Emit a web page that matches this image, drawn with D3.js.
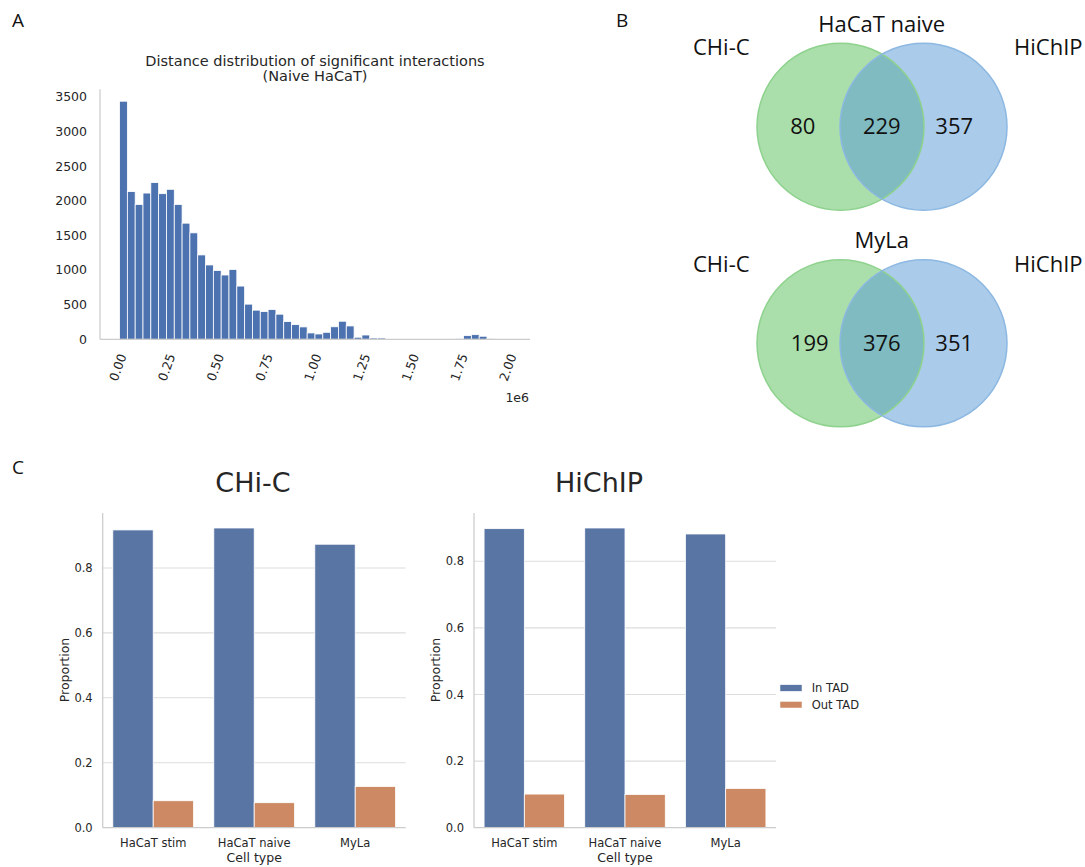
<!DOCTYPE html>
<html>
<head>
<meta charset="utf-8">
<script src="https://cdn.jsdelivr.net/npm/d3@7"></script>
<style>
  html, body { margin: 0; padding: 0; background: #fff; }
  svg { display: block; }
  text { fill: #262626; }
</style>
</head>
<body>
<svg id="fig" width="1085" height="867"></svg>
<script>
// ---------- Panel A: histogram of interaction distances (Naive HaCaT) ----------
const histBinStart = 9000;      // bp, left edge of first bin
const histBinWidth = 40100;     // bp per bin
const histCounts = [
  3440, 2134, 1949, 2113, 2264, 2104, 2167, 1949, 1678, 1538,
  1219, 1074,  995,  929, 1010,  769,  508,  421,  401,  430,
   363,  256,  212,  179,   92,   77,  101,  181,  261,  193,
    30,   62,   19,   19,    0,    0,    0,    0,    0,    0,
     0,    0,    0,   10,   53,   67,   44,   10,    0,    0
];
const histXTicks = [0, 250000, 500000, 750000, 1000000, 1250000, 1500000, 1750000, 2000000];
const histYTicks = [0, 500, 1000, 1500, 2000, 2500, 3000, 3500];

// ---------- Panel B: Venn overlaps ----------
const vennSets = ["CHi-C", "HiChIP"];
const vennTitles = ["HaCaT naive", "MyLa"];
const vennOnlyA = [80, 199];
const vennBoth = [229, 376];
const vennOnlyB = [357, 351];

// ---------- Panel C: proportion of interactions in / out of TADs ----------
const cellTypes = ["HaCaT stim", "HaCaT naive", "MyLa"];
const tadGroups = ["In TAD", "Out TAD"];
const chicIn  = [0.917, 0.923, 0.873];
const chicOut = [0.083, 0.077, 0.127];
const hichipIn  = [0.898, 0.900, 0.882];
const hichipOut = [0.101, 0.100, 0.118];
const propTicks = [0.0, 0.2, 0.4, 0.6, 0.8];

const svg = d3.select("#fig");
const SANS = "'DejaVu Sans', sans-serif";
const LABEL = "'Open Sans', 'Noto Sans', sans-serif";
const SPINE = "#cccccc";

// Panel letters
[["A", 12, 27], ["B", 616, 27], ["C", 12, 474]].forEach(([t, x, y]) => {
  svg.append("text").attr("x", x).attr("y", y).attr("font-family", LABEL)
    .attr("font-size", 19).style("fill", "#111").text(t);
});

// ===== Panel A =====
(function () {
  const g = svg.append("g");
  const lo = histBinStart, hi = histBinStart + histCounts.length * histBinWidth;
  const pad = 0.05 * (hi - lo);
  const x = d3.scaleLinear().domain([lo - pad, hi + pad]).range([100, 530]);
  const y = d3.scaleLinear().domain([0, d3.max(histCounts) * 1.05]).range([339.3, 89.3]);

  const bins = histCounts.map((c, i) => ({ x0: lo + i * histBinWidth, x1: lo + (i + 1) * histBinWidth, c }))
    .filter(d => d.c > 0);

  g.selectAll("rect.bin").data(bins).join("rect")
    .attr("class", "bin")
    .attr("x", d => x(d.x0))
    .attr("width", d => x(d.x1) - x(d.x0))
    .attr("y", d => y(d.c))
    .attr("height", d => y(0) - y(d.c))
    .attr("fill", "#4c72b0")
    .attr("stroke", "#ffffff").attr("stroke-width", 0.8);

  // spines
  g.append("line").attr("x1", 100).attr("x2", 100).attr("y1", y.range()[1]).attr("y2", y(0))
    .attr("stroke", SPINE).attr("stroke-width", 1.25);
  g.append("line").attr("x1", 100).attr("x2", 530).attr("y1", y(0)).attr("y2", y(0))
    .attr("stroke", SPINE).attr("stroke-width", 1.25);

  // y tick labels
  g.selectAll("text.yt").data(histYTicks).join("text")
    .attr("class", "yt")
    .attr("x", 87).attr("y", d => y(d)).attr("dy", "0.35em")
    .attr("text-anchor", "end").attr("font-family", SANS).attr("font-size", 12.5)
    .text(d => d);

  // x tick labels, rotated 70 degrees, box centred under the tick
  g.selectAll("text.xt").data(histXTicks).join("text")
    .attr("class", "xt")
    .attr("transform", d => `translate(${x(d)},${y(0) + 28}) rotate(-70)`)
    .attr("text-anchor", "middle").attr("dominant-baseline", "central")
    .attr("font-family", SANS).attr("font-size", 12.5)
    .text(d => d3.format(".2f")(d / 1e6));

  g.append("text").attr("x", 529).attr("y", 402).attr("text-anchor", "end")
    .attr("font-family", SANS).attr("font-size", 12.5).text("1e6");

  const title = g.append("text").attr("text-anchor", "middle")
    .attr("font-family", SANS).attr("font-size", 14.5);
  title.append("tspan").attr("x", 315).attr("y", 66).text("Distance distribution of significant interactions");
  title.append("tspan").attr("x", 315).attr("y", 81).text("(Naive HaCaT)");
})();

// ===== Panel B =====
(function () {
  const cy = [126.7, 343.3];
  const r = 83.5;
  const cx = d3.scaleOrdinal().domain(vennSets).range([840.5, 923.5]);
  const fill = d3.scaleOrdinal().domain(vennSets).range(["#aadeaa", "#aacbe9"]);
  const edge = d3.scaleOrdinal().domain(vennSets).range(["#8ed28e", "#8cb8e2"]);
  const lensFill = "#80bbc1";

  vennTitles.forEach((title, k) => {
    const g = svg.append("g");
    const ax = cx(vennSets[0]), bx = cx(vennSets[1]), c = cy[k];
    vennSets.forEach(s => {
      g.append("circle").attr("cx", cx(s)).attr("cy", c).attr("r", r).attr("fill", fill(s));
    });
    // overlap lens
    const half = (bx - ax) / 2, h = Math.sqrt(r * r - half * half), mx = ax + half;
    g.append("path")
      .attr("d", `M${mx},${c - h} A${r},${r} 0 0 1 ${mx},${c + h} A${r},${r} 0 0 1 ${mx},${c - h} Z`)
      .attr("fill", lensFill);
    vennSets.forEach(s => {
      g.append("circle").attr("cx", cx(s)).attr("cy", c).attr("r", r)
        .attr("fill", "none").attr("stroke", edge(s)).attr("stroke-width", 1.5);
    });

    const base = c + 7.5;
    g.append("text").attr("x", 881.7).attr("y", c - 95).attr("text-anchor", "middle")
      .attr("font-family", LABEL).attr("font-size", 22).style("fill", "#111").text(title);
    g.append("text").attr("x", 721.3).attr("y", c - 71.7).attr("text-anchor", "middle")
      .attr("font-family", LABEL).attr("font-size", 22).style("fill", "#111").text(vennSets[0]);
    g.append("text").attr("x", 1048.3).attr("y", c - 71.7).attr("text-anchor", "middle")
      .attr("font-family", LABEL).attr("font-size", 22).style("fill", "#111").text(vennSets[1]);
    const nums = [[vennOnlyA[k], k === 0 ? 802.8 : 809.7], [vennBoth[k], 881.8], [vennOnlyB[k], 954.2]];
    nums.forEach(([v, xx]) => {
      g.append("text").attr("x", xx).attr("y", base).attr("text-anchor", "middle")
        .attr("font-family", LABEL).attr("font-size", 22).style("fill", "#111").text(v);
    });
  });
})();

// ===== Panel C =====
function barPanel(opts) {
  const { x0, x1, inVals, outVals, title, titleX } = opts;
  const g = svg.append("g");
  const y0 = 827.7, yTop = 513;
  const y = d3.scaleLinear().domain([0, d3.max(inVals.concat(outVals)) * 1.05]).range([y0, yTop]);
  const xb = d3.scaleBand().domain(cellTypes).range([x0, x1]).paddingInner(0.2).paddingOuter(0.1);
  const xh = d3.scaleBand().domain(tadGroups).range([0, xb.bandwidth()]);
  const color = d3.scaleOrdinal().domain(tadGroups).range(["#5975a4", "#cc8963"]);

  // horizontal grid
  g.selectAll("line.grid").data(propTicks.filter(t => t > 0)).join("line")
    .attr("class", "grid")
    .attr("x1", x0).attr("x2", x1).attr("y1", d => y(d)).attr("y2", d => y(d))
    .attr("stroke", "#dddddd").attr("stroke-width", 1.1);

  const rows = cellTypes.flatMap((c, i) => [
    { cat: c, grp: tadGroups[0], v: inVals[i] },
    { cat: c, grp: tadGroups[1], v: outVals[i] }
  ]);
  g.selectAll("rect.bar").data(rows).join("rect")
    .attr("class", "bar")
    .attr("x", d => xb(d.cat) + xh(d.grp))
    .attr("width", xh.bandwidth())
    .attr("y", d => y(d.v))
    .attr("height", d => y0 - y(d.v))
    .attr("fill", d => color(d.grp))
    .attr("stroke", "#ffffff").attr("stroke-width", 0.8);

  // spines
  g.append("line").attr("x1", x0).attr("x2", x0).attr("y1", yTop).attr("y2", y0)
    .attr("stroke", SPINE).attr("stroke-width", 1.25);
  g.append("line").attr("x1", x0).attr("x2", x1).attr("y1", y0).attr("y2", y0)
    .attr("stroke", SPINE).attr("stroke-width", 1.25);

  g.selectAll("text.yt").data(propTicks).join("text")
    .attr("class", "yt")
    .attr("x", x0 - 10).attr("y", d => y(d)).attr("dy", "0.35em")
    .attr("text-anchor", "end").attr("font-family", SANS).attr("font-size", 11.5)
    .text(d => d3.format(".1f")(d));

  g.selectAll("text.xt").data(cellTypes).join("text")
    .attr("class", "xt")
    .attr("x", d => xb(d) + xb.bandwidth() / 2).attr("y", 846.5)
    .attr("text-anchor", "middle").attr("font-family", SANS).attr("font-size", 11.5)
    .text(d => d);

  g.append("text").attr("x", (x0 + x1) / 2).attr("y", 862)
    .attr("text-anchor", "middle").attr("font-family", SANS).attr("font-size", 12.5)
    .text("Cell type");

  g.append("text").attr("transform", `translate(${x0 - 34},670) rotate(-90)`)
    .attr("text-anchor", "middle").attr("font-family", SANS).attr("font-size", 12.5)
    .text("Proportion");

  g.append("text").attr("x", titleX).attr("y", 492)
    .attr("text-anchor", "middle").attr("font-family", SANS).attr("font-size", 27)
    .text(title);

  return color;
}

barPanel({ x0: 102.7, x1: 405.7, inVals: chicIn, outVals: chicOut, title: "CHi-C", titleX: 253 });
const legendColor = barPanel({ x0: 474, x1: 776, inVals: hichipIn, outVals: hichipOut, title: "HiChIP", titleX: 599 });

// legend
(function () {
  const g = svg.append("g");
  tadGroups.forEach((grp, i) => {
    const yc = 688 + i * 16.7;
    g.append("rect").attr("x", 780).attr("y", yc - 3.3).attr("width", 22).attr("height", 6.6)
      .attr("fill", legendColor(grp)).attr("stroke", "#ffffff").attr("stroke-width", 0.5);
    g.append("text").attr("x", 811.7).attr("y", yc).attr("dy", "0.35em")
      .attr("font-family", SANS).attr("font-size", 11.5).text(grp);
  });
})();
</script>
</body>
</html>
